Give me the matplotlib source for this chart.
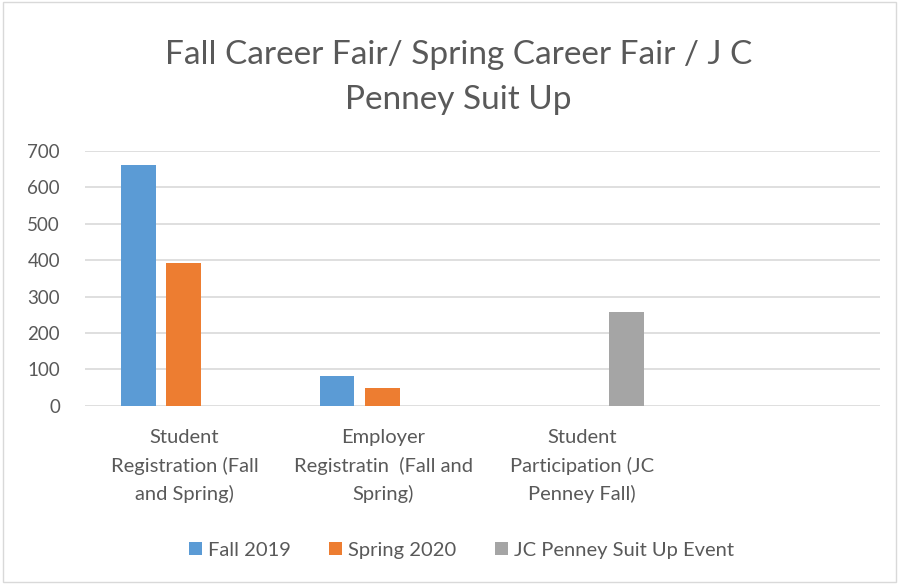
import matplotlib
matplotlib.use("Agg")
import matplotlib.pyplot as plt
from matplotlib.patches import Rectangle
import numpy as np

categories = ["Student\nRegistration (Fall\nand Spring)",
              "Employer\nRegistratin  (Fall and\nSpring)",
              "Student\nParticipation (JC\nPenney Fall)",
              ""]
series_names = ["Fall 2019", "Spring 2020", "JC Penney Suit Up Event"]
fall_2019 = [660, 83, 0, 0]
spring_2020 = [391, 48, 0, 0]
jc_penney = [0, 0, 257, 0]
colors = ["#5b9bd5", "#ed7d31", "#a5a5a5"]
yticks = [0, 100, 200, 300, 400, 500, 600, 700]

plt.rcParams['font.family'] = ['Lato', 'DejaVu Sans']
fig = plt.figure(figsize=(8.99, 5.84), dpi=100)
fig.patches.append(Rectangle((0.003, 0.003), 0.994, 0.994, transform=fig.transFigure,
                             fill=False, edgecolor="#d9d9d9", linewidth=1))
ax = fig.add_axes([0.0946, 0.305, 0.884, 0.437])

x = np.arange(len(categories))
w = 0.174
offs = [-0.228, 0, 0.228]
for i, (vals, name) in enumerate(zip([fall_2019, spring_2020, jc_penney], series_names)):
    ax.bar(x + offs[i] - 0.004, vals, width=w, color=colors[i], label=name, zorder=3)

ax.set_xlim(-0.5, len(categories) - 0.5)
ax.set_ylim(0, 700)
ax.set_yticks(yticks)
ax.set_yticklabels([str(v) for v in yticks], fontsize=13.5, color="#595959")
ax.set_xticks(x)
ax.set_xticklabels(categories, fontsize=14.5, color="#595959", linespacing=1.68)
ax.tick_params(axis='both', length=0)
ax.tick_params(axis='y', pad=18)
ax.tick_params(axis='x', pad=17)
ax.grid(axis='y', color="#d9d9d9", linewidth=1.2, zorder=0)
for s in ax.spines.values():
    s.set_visible(False)

fig.text(0.51, 0.868, "Fall Career Fair/ Spring Career Fair / J C\nPenney Suit Up",
         ha='center', va='center', fontsize=24, color="#595959", linespacing=1.62)

fig.legend(loc='center', bbox_to_anchor=(0.513, 0.058), ncol=3, frameon=False,
           fontsize=14.5, labelcolor="#595959", handlelength=0.65, handleheight=0.65,
           handletextpad=0.3, columnspacing=1.9)

fig.savefig("out.png", dpi=100)
